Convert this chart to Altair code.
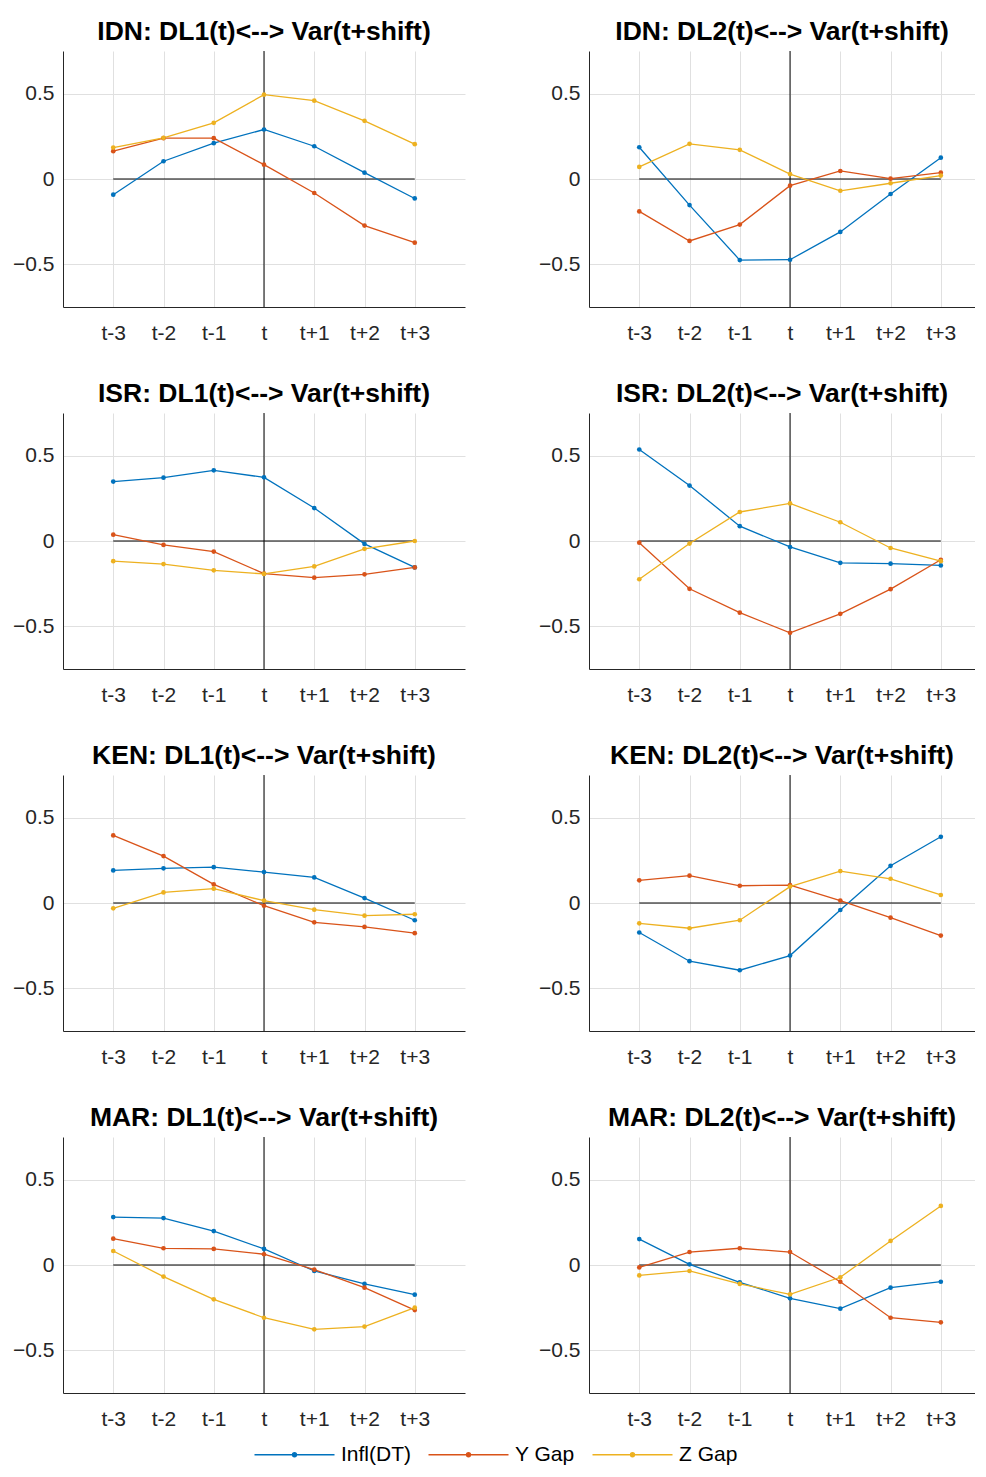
import altair as alt
import pandas as pd

shifts = [-3, -2, -1, 0, 1, 2, 3]
tick_labels = ["t-3", "t-2", "t-1", "t", "t+1", "t+2", "t+3"]
y_ticks = [-0.5, 0, 0.5]
series_names = ["Infl(DT)", "Y Gap", "Z Gap"]
series_colors = ["#0072BD", "#D95319", "#EDB120"]

titles = [
    "IDN: DL1(t)<--> Var(t+shift)", "IDN: DL2(t)<--> Var(t+shift)",
    "ISR: DL1(t)<--> Var(t+shift)", "ISR: DL2(t)<--> Var(t+shift)",
    "KEN: DL1(t)<--> Var(t+shift)", "KEN: DL2(t)<--> Var(t+shift)",
    "MAR: DL1(t)<--> Var(t+shift)", "MAR: DL2(t)<--> Var(t+shift)",
]

# IDN
idn_dl1_infl = [-0.092, 0.104, 0.210, 0.290, 0.192, 0.037, -0.114]
idn_dl1_ygap = [0.163, 0.239, 0.239, 0.084, -0.082, -0.273, -0.373]
idn_dl1_zgap = [0.184, 0.241, 0.329, 0.494, 0.459, 0.341, 0.204]
idn_dl2_infl = [0.186, -0.153, -0.475, -0.473, -0.310, -0.088, 0.125]
idn_dl2_ygap = [-0.190, -0.363, -0.267, -0.039, 0.047, 0.002, 0.037]
idn_dl2_zgap = [0.071, 0.206, 0.171, 0.029, -0.069, -0.025, 0.020]
# ISR
isr_dl1_infl = [0.348, 0.371, 0.414, 0.373, 0.193, -0.017, -0.155]
isr_dl1_ygap = [0.037, -0.023, -0.062, -0.191, -0.215, -0.195, -0.155]
isr_dl1_zgap = [-0.118, -0.135, -0.172, -0.193, -0.149, -0.046, 0.000]
isr_dl2_infl = [0.536, 0.325, 0.087, -0.035, -0.128, -0.133, -0.143]
isr_dl2_ygap = [-0.010, -0.280, -0.420, -0.538, -0.427, -0.282, -0.110]
isr_dl2_zgap = [-0.224, -0.015, 0.170, 0.220, 0.110, -0.041, -0.118]
# KEN
ken_dl1_infl = [0.191, 0.203, 0.210, 0.181, 0.150, 0.029, -0.101]
ken_dl1_ygap = [0.396, 0.275, 0.109, -0.016, -0.113, -0.140, -0.177]
ken_dl1_zgap = [-0.031, 0.062, 0.084, 0.014, -0.039, -0.074, -0.066]
ken_dl2_infl = [-0.173, -0.341, -0.394, -0.308, -0.041, 0.218, 0.388]
ken_dl2_ygap = [0.133, 0.160, 0.101, 0.105, 0.014, -0.086, -0.191]
ken_dl2_zgap = [-0.119, -0.148, -0.101, 0.096, 0.187, 0.142, 0.047]
# MAR
mar_dl1_infl = [0.281, 0.275, 0.199, 0.094, -0.035, -0.111, -0.174]
mar_dl1_ygap = [0.154, 0.098, 0.094, 0.063, -0.027, -0.133, -0.264]
mar_dl1_zgap = [0.082, -0.068, -0.201, -0.309, -0.377, -0.361, -0.250]
mar_dl2_infl = [0.152, 0.004, -0.102, -0.195, -0.256, -0.133, -0.098]
mar_dl2_ygap = [-0.014, 0.076, 0.098, 0.076, -0.098, -0.309, -0.336]
mar_dl2_zgap = [-0.061, -0.035, -0.111, -0.172, -0.072, 0.141, 0.346]

panels = [
    (idn_dl1_infl, idn_dl1_ygap, idn_dl1_zgap), (idn_dl2_infl, idn_dl2_ygap, idn_dl2_zgap),
    (isr_dl1_infl, isr_dl1_ygap, isr_dl1_zgap), (isr_dl2_infl, isr_dl2_ygap, isr_dl2_zgap),
    (ken_dl1_infl, ken_dl1_ygap, ken_dl1_zgap), (ken_dl2_infl, ken_dl2_ygap, ken_dl2_zgap),
    (mar_dl1_infl, mar_dl1_ygap, mar_dl1_zgap), (mar_dl2_infl, mar_dl2_ygap, mar_dl2_zgap),
]

FONT = "Liberation Sans"
x_label_expr = "[" + ",".join("'%s'" % t for t in tick_labels) + "][datum.value + 3]"
y_label_expr = "datum.value == 0 ? '0' : format(datum.value, '.1f')"
# legend symbol: a long line with a small dot in the middle
legend_path = ("M-5,0L5,0M0.25,0A0.25,0.25,0,1,1,-0.25,0"
               "A0.25,0.25,0,1,1,0.25,0Z")

PH = 256


def make_panel(idx, xmax, width):
    infl, ygap, zgap = panels[idx]
    rows = []
    for name, vals in zip(series_names, [infl, ygap, zgap]):
        for s, v in zip(shifts, vals):
            rows.append({"shift": s, "value": v, "series": name})
    df = pd.DataFrame(rows)

    xs = alt.Scale(domain=[-4, xmax], nice=False, zero=False)
    ys = alt.Scale(domain=[-0.75, 0.75], nice=False, zero=False)
    xaxis = alt.Axis(values=shifts, labelExpr=x_label_expr, title=None, grid=True)
    yaxis = alt.Axis(values=y_ticks, labelExpr=y_label_expr, title=None, grid=True)

    color = alt.Color(
        "series:N",
        scale=alt.Scale(domain=series_names, range=series_colors),
        legend=alt.Legend(
            orient="none", legendX=221, legendY=1393, direction="horizontal",
            title=None, symbolType=legend_path, symbolSize=256,
            symbolStrokeWidth=1.3, labelFontSize=21, labelFont=FONT,
            labelColor="#000000", labelOffset=36, columnPadding=14,
            padding=0,
        ),
    )

    vline = alt.Chart(pd.DataFrame({"shift": [0]})).mark_rule(
        color="black", strokeWidth=1
    ).encode(x=alt.X("shift:Q", scale=xs, axis=xaxis))
    hline = alt.Chart(
        pd.DataFrame({"x1": [shifts[0]], "x2": [shifts[-1]], "y": [0]})
    ).mark_rule(color="black", strokeWidth=1).encode(
        x=alt.X("x1:Q", scale=xs, axis=xaxis), x2="x2:Q",
        y=alt.Y("y:Q", scale=ys, axis=yaxis),
    )
    lines = alt.Chart(df).mark_line(strokeWidth=1.3).encode(
        x=alt.X("shift:Q", scale=xs, axis=xaxis),
        y=alt.Y("value:Q", scale=ys, axis=yaxis),
        color=color,
    )
    pts = alt.Chart(df).mark_point(filled=True, size=22, opacity=1).encode(
        x=alt.X("shift:Q", scale=xs, axis=xaxis),
        y=alt.Y("value:Q", scale=ys, axis=yaxis),
        color=color,
    )
    return alt.layer(vline, hline, lines, pts).properties(
        width=width, height=PH,
        title=alt.Title(titles[idx], fontSize=26.5, font=FONT, fontWeight="bold",
                        color="#000000", anchor="middle", offset=5),
    )


rows_charts = []
for r in range(4):
    left = make_panel(2 * r, 4, 402)
    # the right column is cut by the page edge, as in the reference
    right = make_panel(2 * r + 1, 3.68, 386)
    rows_charts.append(alt.hconcat(left, right, spacing=73))

chart = alt.vconcat(*rows_charts, spacing=38).configure_view(
    stroke=None
).configure_axis(
    labelFont=FONT, labelFontSize=21, labelColor="#262626",
    domainColor="#262626", domainWidth=1, gridColor="#e0e0e0", gridWidth=1,
    ticks=False, labelPadding=9,
).configure_axisX(labelPadding=15).properties(
    padding={"left": 4, "top": 11, "right": 0, "bottom": 0}
)

chart.save("out.html", embed_options={"renderer": "svg", "actions": False})
